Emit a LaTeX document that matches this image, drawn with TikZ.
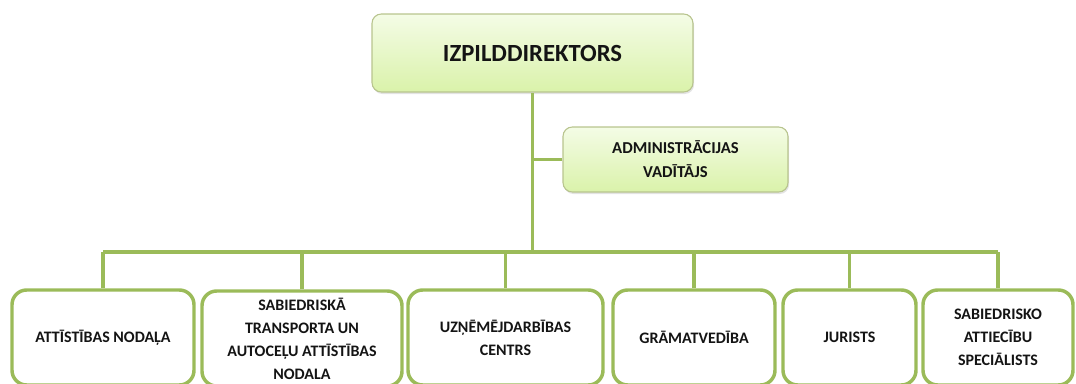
\documentclass[tikz,border=0pt]{standalone}
\usepackage{xcolor}
\usepackage{fontspec}
\setmainfont{Carlito}
\usepackage{tikz}
\usetikzlibrary{shadows}

\definecolor{linkgreen}{RGB}{155,187,89}
\definecolor{headtop}{RGB}{244,252,230}
\definecolor{headbot}{RGB}{218,242,170}
\definecolor{headedge}{RGB}{184,196,142}
\definecolor{inktext}{RGB}{20,20,20}

\tikzset{
  headbox/.style={draw=headedge, line width=0.8pt, rounded corners=7pt,
    top color=headtop, bottom color=headbot, align=center,
    text=inktext, font=\bfseries,
    drop shadow={opacity=0.22, shadow xshift=0.8pt, shadow yshift=-1.5pt}},
  unitbox/.style={draw=linkgreen, line width=2.6pt, rounded corners=11pt,
    fill=white, align=center, text=inktext,
    font=\fontsize{12}{17.3}\selectfont\bfseries,
    minimum height=71.25pt, inner sep=2pt},
  link/.style={draw=linkgreen, line width=2.4pt},
  rail/.style={draw=linkgreen, line width=3.4pt}
}

\begin{document}
\begin{tikzpicture}[x=0.75pt,y=0.75pt,yscale=-1,xscale=1]
\useasboundingbox (0,0) rectangle (1076,383);

%Rounded Rect [id:dir]
\draw (532.5,53) node [headbox, minimum width=240.75pt, minimum height=58.5pt,
  font=\fontsize{18.5}{22}\selectfont\bfseries] (dir) {IZPILDDIREKTORS};
%Rounded Rect [id:admin]
\draw (675.5,159.5) node [headbox, minimum width=168.75pt, minimum height=48.75pt,
  font=\fontsize{12.5}{18}\selectfont\bfseries] (admin) {ADMINISTRĀCIJAS\\VADĪTĀJS};

%Rail ends
\coordinate (railL) at (103,252);
\coordinate (railR) at (998,252);

%Bottom units
\draw (103,337.5) node [unitbox, minimum width=136.5pt] (att) {ATTĪSTĪBAS NODAĻA};
\draw (302,338.5) node [unitbox, minimum width=150pt] (transp) {SABIEDRISKĀ\\TRANSPORTA UN\\AUTOCEĻU ATTĪSTĪBAS\\NODALA};
\draw (505.5,337.5) node [unitbox, minimum width=146.25pt] (uzn) {UZŅĒMĒJDARBĪBAS\\CENTRS};
\draw (694,337.5) node [unitbox, minimum width=121.5pt] (gram) {GRĀMATVEDĪBA};
\draw (849.5,337.5) node [unitbox, minimum width=99.75pt] (jur) {JURISTS};
\draw (998,337.5) node [unitbox, minimum width=112.5pt] (sab) {SABIEDRISKO\\ATTIECĪBU\\SPECIĀLISTS};

%Straight Lines
\draw [link] (dir.south) -- (dir.south |- railL);
\draw [link] (admin.west) -- (admin.west -| dir.south);
\draw [rail] (railL) -- (railR);
\foreach \u in {att,transp,uzn,gram,jur,sab}
  \draw [link] (\u.north) -- (\u.north |- railL);

\end{tikzpicture}
\end{document}
